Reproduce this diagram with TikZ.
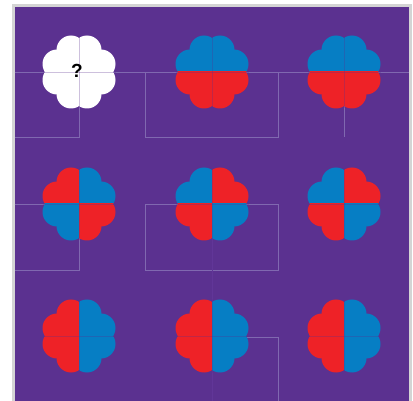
\documentclass[tikz,border=0pt]{standalone}
\usepackage{fontspec}
\setmainfont{Liberation Sans}
\definecolor{bgpurple}{HTML}{5B3190}
\definecolor{gridpurple}{HTML}{8068B0}
\definecolor{faintpurple}{HTML}{613698}
\definecolor{framegray}{HTML}{D4D4D4}
\definecolor{fblue}{HTML}{067EC4}
\definecolor{fred}{HTML}{EE2227}
\newcommand\petalunion[1]{%
  \fill[#1] (-22,-22) rectangle (22,22);
  \foreach \pa/\pb in {8/22,-8/22,8/-22,-8/-22,22/8,-22/8,22/-8,-22/-8}
    \fill[#1] (\pa,\pb) circle[radius=14.5pt];
}
\newcommand\drawflower[6]{%
  \begin{scope}[shift={(#1,#2)}]
    \begin{scope}\clip (-40,-40) rectangle (0,0); \petalunion{#3} \end{scope}
    \begin{scope}\clip (0,-40) rectangle (40,0); \petalunion{#4} \end{scope}
    \begin{scope}\clip (-40,0) rectangle (0,40); \petalunion{#5} \end{scope}
    \begin{scope}\clip (0,0) rectangle (40,40); \petalunion{#6} \end{scope}
    \draw[seam] (0,-36.5) -- (0,36.5);
    \draw[seam] (-36.5,0) -- (36.5,0);
  \end{scope}
}
\begin{document}
\begin{tikzpicture}[x=1pt,y=-1pt,
  gridline/.style={draw=gridpurple,line width=0.6pt},
  seam/.style={draw=bgpurple,draw opacity=0.3,line width=0.7pt}]
\useasboundingbox (0,0) rectangle (413,401);
\fill[white] (0,0) rectangle (413,401);
\fill[framegray] (12,4) rectangle (412,401);
\fill[bgpurple] (14.5,7) rectangle (409,401);
% background lines
\draw[gridline] (14.5,72) -- (409,72);
\draw[gridline] (79,72) -- (79,137) -- (14.5,137);
\draw[gridline] (145,72) rectangle (278,137);
\draw[gridline] (344,72) -- (344,137);
\draw[gridline] (14.5,204) -- (79,204) -- (79,270) -- (14.5,270);
\draw[gridline] (145,204) rectangle (278,270);
\draw[gridline] (212,337) -- (278,337) -- (278,401);
\draw[draw=faintpurple,line width=0.5pt] (212,204) -- (212,401);
% flowers
\drawflower{79}{72}{white}{white}{white}{white}
\drawflower{212}{72}{fblue}{fblue}{fred}{fred}
\drawflower{344}{72}{fblue}{fblue}{fred}{fred}
\drawflower{79}{204}{fred}{fblue}{fblue}{fred}
\drawflower{212}{204}{fblue}{fred}{fred}{fblue}
\drawflower{344}{204}{fblue}{fred}{fred}{fblue}
\drawflower{79}{336}{fred}{fblue}{fred}{fblue}
\drawflower{212}{336}{fred}{fblue}{fred}{fblue}
\drawflower{344}{336}{fred}{fblue}{fred}{fblue}
\node[font=\fontsize{19}{19}\selectfont\bfseries,text=black,inner sep=0pt] (q) at (77,70.5) {?};
\end{tikzpicture}
\end{document}
